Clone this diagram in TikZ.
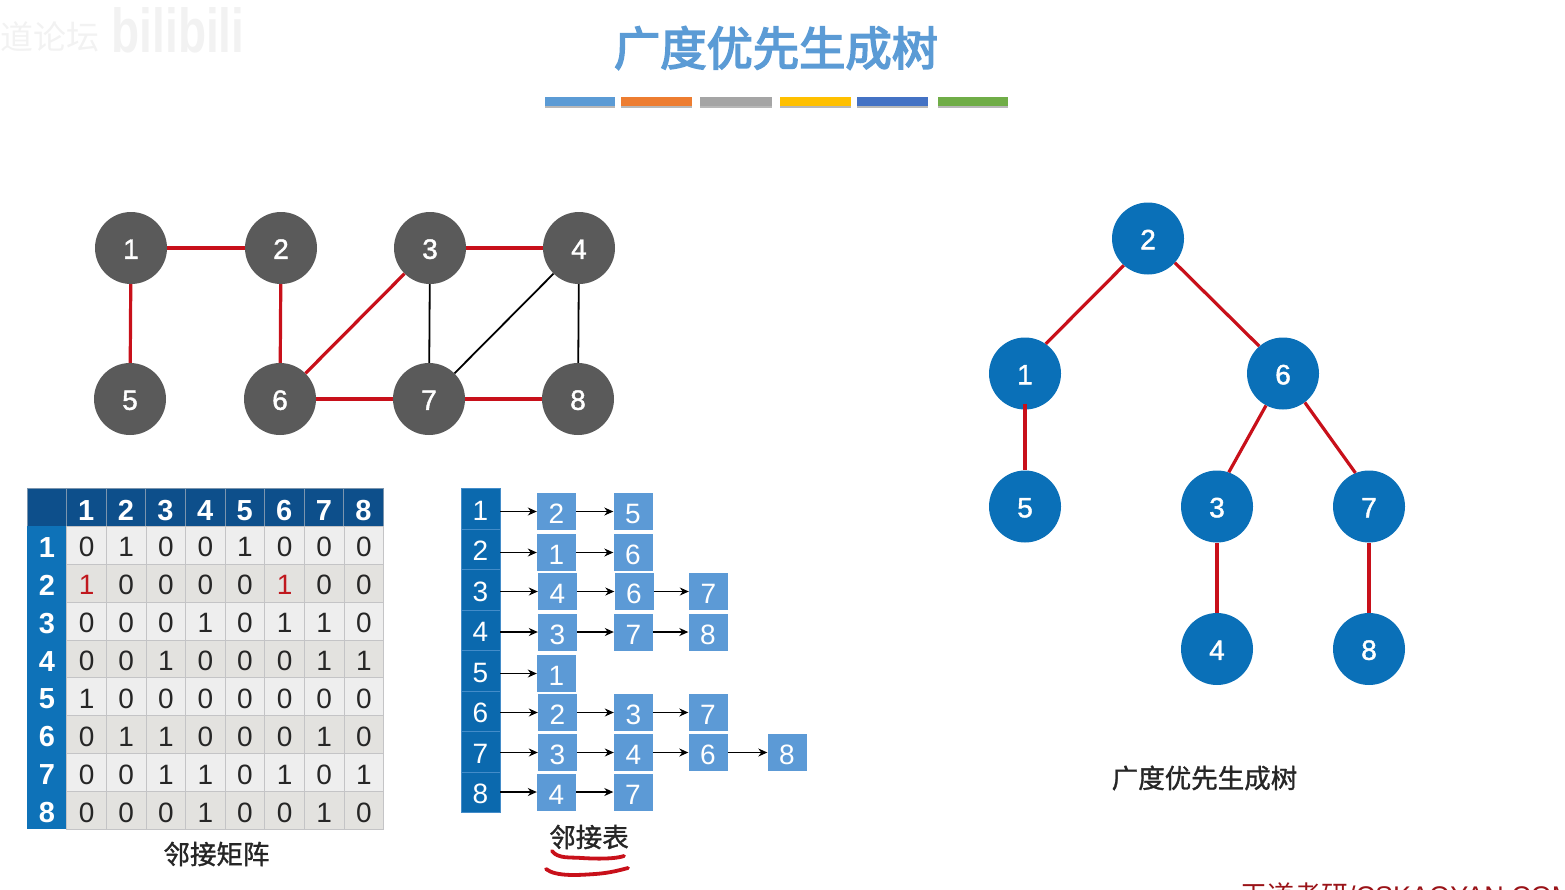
\documentclass[tikz,border=0pt]{standalone}
\usepackage{fontspec}
\usetikzlibrary{arrows.meta}
\setmainfont{Liberation Sans}
\newfontfamily\cjk{Noto Sans CJK SC}
\newfontfamily\cjkmid[FakeBold=1.2]{Noto Sans CJK SC}
\newfontfamily\cjktitle[FakeBold=3.5]{Noto Sans CJK SC}
\newfontfamily\numf[FakeBold=1.5]{Liberation Sans}
\definecolor{titleblue}{HTML}{5B9BD5}
\definecolor{grayn}{HTML}{5A5A5A}
\definecolor{treen}{HTML}{0A70B8}
\definecolor{redl}{HTML}{C8101A}
\definecolor{headdark}{HTML}{0D4F8B}
\definecolor{headrow}{HTML}{0E72B8}
\definecolor{rowA}{HTML}{EEEEEE}
\definecolor{rowB}{HTML}{E3E2DF}
\definecolor{gridc}{HTML}{C4C4C6}
\definecolor{matred}{HTML}{C0181E}
\definecolor{listhead}{HTML}{0B69AE}
\definecolor{listcell}{HTML}{5C9AD6}
\definecolor{wm}{HTML}{F2F2F2}
\newcommand{\fsz}[1]{\fontsize{#1}{#1}\selectfont}
\newcommand{\redone}{\textcolor{matred}{1}}
\newcommand{\dn}[2]{\raisebox{-#1pt}[0.7em][0pt]{#2}}
\tikzset{
  gnode/.style={circle,fill=grayn,text=white,minimum size=72pt,inner sep=0pt,font=\numf\fsz{28}},
  tnode/.style={circle,fill=treen,text=white,minimum size=72pt,inner sep=0pt,font=\numf\fsz{28}},
  redge/.style={draw=redl,line width=3.2pt},
  bedge/.style={draw=black,line width=1.8pt},
  mcell/.style={draw=gridc,line width=0.8pt,minimum width=39.6pt,minimum height=37.9pt,inner sep=0pt,text=black!85,font=\fsz{28}},
  mhead/.style={draw=gridc!60!headdark,line width=0.8pt,fill=headdark,text=white,minimum width=39.6pt,minimum height=37.5pt,inner sep=0pt,font=\fsz{29}\bfseries},
  mside/.style={fill=headrow,text=white,minimum width=40pt,minimum height=37.9pt,inner sep=0pt,font=\fsz{29}\bfseries},
  lhead/.style={draw=titleblue!70!listhead,line width=0.8pt,fill=listhead,text=white,minimum width=39pt,minimum height=40.5pt,inner sep=0pt,font=\fsz{28}},
  lcell/.style={fill=listcell,text=white,minimum width=39pt,minimum height=37pt,inner sep=0pt,font=\fsz{28}},
  larrow/.style={draw=black,line width=1.2pt,-{Stealth[length=9pt,width=8pt]}},
  captext/.style={inner sep=0pt,text=black!85,font=\cjkmid\fsz{26.5}},
  scribble/.style={draw=redl,line width=3.8pt,line cap=round},
}
\begin{document}
\begin{tikzpicture}[x=1pt,y=-1pt]
\useasboundingbox (0,0) rectangle (1565,889);
\begin{scope}
\clip (0,0) rectangle (1565,889);
% watermark
\node[text=wm,inner sep=0pt,font=\cjk\fsz{33},anchor=west] (wma) at (0,37) {道论坛};
\node[text=wm,inner sep=0pt,font=\fsz{46}\bfseries,yscale=1.35,anchor=center] (wmb) at (178,30) {bilibili};
% title
\node[text=titleblue,inner sep=0pt,font=\cjktitle\fsz{46.3}] (title) at (776,48) {广度优先生成树};
% colour bars
\foreach \n/\xa/\xb/\c in {a/545/615/5B9BD5,b/621/692/ED7D31,c/700/772/A5A5A5,d/780/851/FFC000,e/857/928/4472C4,f/938/1008/70AD47}{
  \definecolor{barc}{HTML}{\c}
  \fill[black!28] (\xa,100) rectangle (\xb,108);
  \fill[barc] (\xa,97) rectangle (\xb,105.5);
}
% graph
\node[gnode] (g1) at (131,248) {\dn{1}{1}};
\node[gnode] (g2) at (281,248) {\dn{1}{2}};
\node[gnode] (g3) at (430,248) {\dn{1}{3}};
\node[gnode] (g4) at (579,248) {\dn{1}{4}};
\node[gnode] (g5) at (130,399) {\dn{1}{5}};
\node[gnode] (g6) at (280,399) {\dn{1}{6}};
\node[gnode] (g7) at (429,399) {\dn{1}{7}};
\node[gnode] (g8) at (578,399) {\dn{1}{8}};
\draw[redge] (g1) -- (g2);
\draw[redge] (g1) -- (g5);
\draw[redge] (g2) -- (g6);
\draw[redge] (g3) -- (g4);
\draw[redge] (g3) -- (g6);
\draw[redge] (g6) -- (g7);
\draw[redge] (g7) -- (g8);
\draw[bedge] (g3) -- (g7);
\draw[bedge] (g4) -- (g7);
\draw[bedge] (g4) -- (g8);
% tree
\node[tnode] (t2) at (1148,238.5) {\dn{1}{2}};
\node[tnode] (t1) at (1025,373.5) {\dn{1}{1}};
\node[tnode] (t6) at (1283,373.5) {\dn{1}{6}};
\node[tnode] (t5) at (1025,506.5) {\dn{1}{5}};
\node[tnode] (t3) at (1217,506.5) {\dn{1}{3}};
\node[tnode] (t7) at (1369,506.5) {\dn{1}{7}};
\node[tnode] (t4) at (1217,649) {\dn{1}{4}};
\node[tnode] (t8) at (1369,649) {\dn{1}{8}};
\draw[redge] (t2.228) -- (t1.55.6);
\draw[redge] (t2.-42) -- (t6.131);
\draw[redge] ([yshift=6pt]t1.south) -- (t5.north);
\draw[redge] (t6.-118) -- (t3.71);
\draw[redge] (t6.-53.5) -- (t7.112.5);
\draw[redge] (t3) -- (t4);
\draw[redge] (t7) -- (t8);
\node[captext] (tcap) at (1204.5,778) {广度优先生成树};
% matrix
\node[mhead,minimum width=40pt] (mh0) at (47,507.5) {};
\foreach \c in {1,...,8}{
  \pgfmathsetmacro{\xx}{66.5+39.6*(\c-0.5)}
  \node[mhead] (mh\c) at (\xx,507.5) {\dn{2.5}{\c}};
}
\foreach \rowdata [count=\r] in {
 {0,1,0,0,1,0,0,0},
 {\redone,0,0,0,0,\redone,0,0},
 {0,0,0,1,0,1,1,0},
 {0,0,1,0,0,0,1,1},
 {1,0,0,0,0,0,0,0},
 {0,1,1,0,0,0,1,0},
 {0,0,1,1,0,1,0,1},
 {0,0,0,1,0,0,1,0}}{
  \pgfmathsetmacro{\yy}{526.2+37.9*(\r-0.5)}
  \node[mside] (ms\r) at (47,\yy) {\dn{2}{\r}};
  \ifodd\r\def\cf{rowA}\else\def\cf{rowB}\fi
  \foreach \v [count=\c] in \rowdata {
    \pgfmathsetmacro{\xx}{66.8+39.6*(\c-0.5)}
    \node[mcell,fill=\cf] (m\r c\c) at (\xx,\yy) {\dn{2}{\v}};
  }
}
\node[captext] (mcap) at (216.5,854) {邻接矩阵};
% adjacency list heads
\foreach \i in {1,...,8}{
  \pgfmathsetmacro{\yy}{488.5+40.5*(\i-0.5)}
  \node[lhead] (h\i) at (480.5,\yy) {\dn{1.5}{\i}};
}
% adjacency list cells
\foreach \n/\x/\y/\t in {
 a1/556.5/511.5/2, b1/633/511.5/5,
 a2/556.5/552.5/1, b2/633/552.5/6,
 a3/557.5/591.5/4, b3/634/591.5/6, c3/708.5/591.5/7,
 a4/557.5/632/3, b4/633.5/632/7, c4/708/632/8,
 a5/556.5/673.5/1,
 a6/557.5/712.5/2, b6/633.5/712.5/3, c6/708/712.5/7,
 a7/557.5/752.5/3, b7/633.5/752.5/4, c7/708/752.5/6, d7/787/752.5/8,
 a8/556.5/792/4, b8/633/792/7}{
  \node[lcell] (\n) at (\x,\y) {\dn{2.5}{\t}};
}
\foreach \i/\first in {1/a1,2/a2,3/a3,4/a4,5/a5,6/a6,7/a7,8/a8}{
  \draw[larrow] (h\i.east |- \first.west) -- (\first.west);
}
\foreach \p/\q in {a1/b1,a2/b2,a3/b3,b3/c3,a4/b4,b4/c4,a6/b6,b6/c6,a7/b7,b7/c7,c7/d7,a8/b8}{
  \draw[larrow] (\p.east) -- (\q.west);
}
\node[captext] (lcap) at (589,837) {邻接表};
% hand-drawn underlines
\draw[scribble] (552,851) .. controls (558,859) and (570,857) .. (582,858) .. controls (598,859) and (615,859) .. (624,856);
\draw[scribble] (546,869) .. controls (556,877) and (580,875) .. (595,874) .. controls (610,873) and (620,870) .. (628,868);
% corner text
\node[anchor=west,inner sep=0pt,text=matred!80!black,font=\fsz{27}] (wmc) at (1240,895) {{\cjk 王道考研}/CSKAOYAN.COM};
\end{scope}
\end{tikzpicture}
\end{document}
